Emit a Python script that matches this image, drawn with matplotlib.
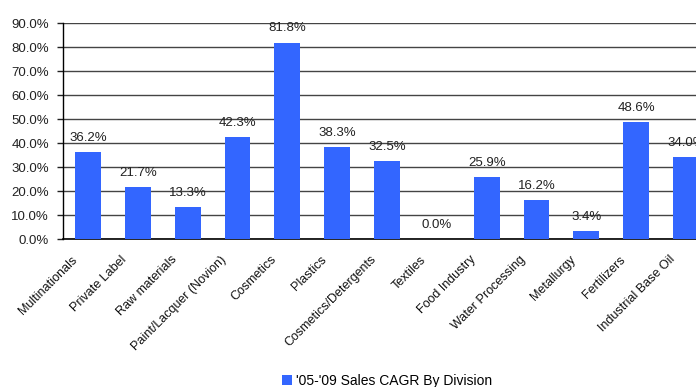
import matplotlib
matplotlib.use("Agg")
import matplotlib.pyplot as plt
import matplotlib.transforms as mtransforms
from matplotlib.ticker import FuncFormatter, MultipleLocator

plt.rcParams['font.family'] = ['Liberation Sans', 'DejaVu Sans']

divisions = ["Multinationals", "Private Label", "Raw materials",
             "Paint/Lacquer (Novion)", "Cosmetics", "Plastics",
             "Cosmetics/Detergents", "Textiles", "Food Industry",
             "Water Processing", "Metallurgy", "Fertilizers",
             "Industrial Base Oil"]
cagr = [36.2, 21.7, 13.3, 42.3, 81.8, 38.3, 32.5, 0.0, 25.9, 16.2, 3.4, 48.6, 34.0]
series_name = "'05-'09 Sales CAGR By Division"

bar_color = "#3366FF"

fig = plt.figure(figsize=(6.96, 3.87), dpi=100)
# axes runs a little past the right edge of the figure
ax = fig.add_axes([63 / 696, 1 - 239 / 387, 648 / 696, 216 / 387])

x = list(range(len(divisions)))
bars = ax.bar(x, cagr, width=0.52, color=bar_color, zorder=3, label=series_name)

for xi, v in zip(x, cagr):
    ax.annotate(f"{v:.1f}%", (xi, v), xytext=(0, 6), textcoords="offset points",
                ha="center", va="bottom", fontsize=9.5, color="#222222")

ax.set_xlim(-0.5, len(divisions) - 0.5)
ax.set_ylim(0, 90)
ax.yaxis.set_major_locator(MultipleLocator(10))
ax.yaxis.set_major_formatter(FuncFormatter(lambda v, p: f"{v:.1f}%"))
ax.grid(axis="y", color="#444444", linewidth=1.0, zorder=0)
ax.tick_params(axis="y", length=4, width=1, labelsize=9.5, pad=6, colors="#222222")
ax.tick_params(axis="x", length=0, pad=4)

ax.set_xticks(x)
ax.set_xticklabels(divisions, rotation=45, ha="right", rotation_mode="anchor",
                   fontsize=9, color="#111111")
# nudge the slanted category names down and to the left of each bar
shift = mtransforms.ScaledTranslation(-17 / 100, -9 / 100, fig.dpi_scale_trans)
for lbl in ax.get_xticklabels():
    lbl.set_transform(lbl.get_transform() + shift)

for side in ("top", "right"):
    ax.spines[side].set_visible(False)
ax.spines["left"].set_color("black")
ax.spines["bottom"].set_color("black")
ax.spines["left"].set_linewidth(1)
ax.spines["bottom"].set_linewidth(1.2)

fig.legend(handles=[bars], labels=[series_name], loc="lower center",
           bbox_to_anchor=(387 / 696, -0.035), frameon=False, fontsize=10,
           handlelength=0.7, handleheight=0.7, handletextpad=0.3)

fig.savefig("out.png", dpi=100)
